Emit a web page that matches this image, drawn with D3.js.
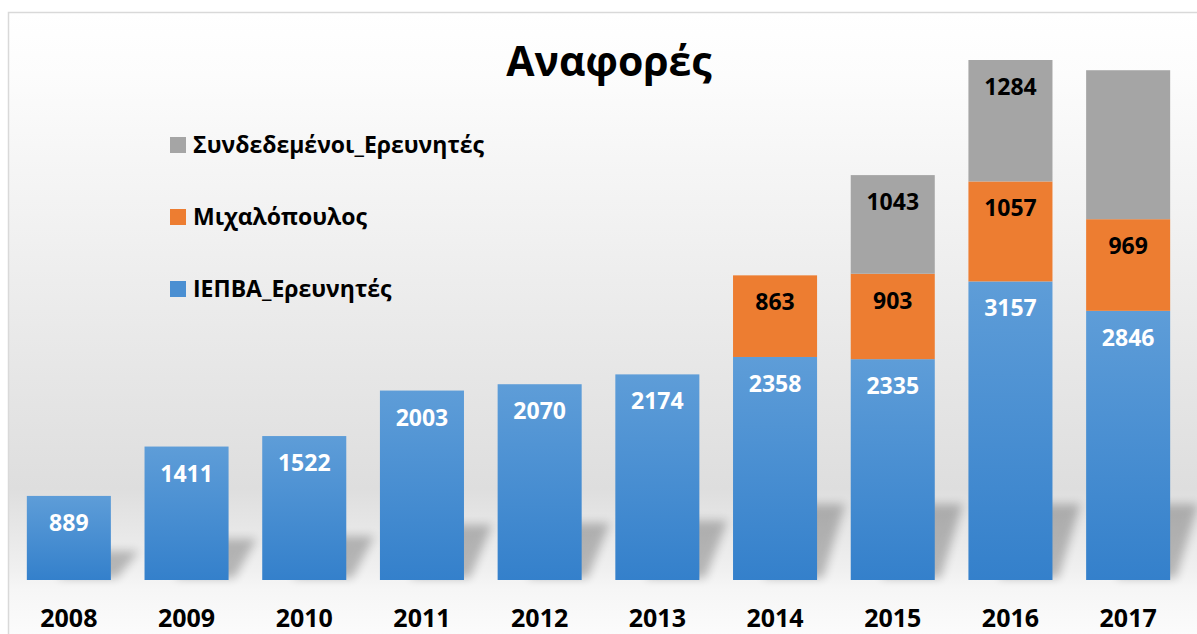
<!DOCTYPE html>
<html>
<head>
<meta charset="utf-8">
<script src="https://cdn.jsdelivr.net/npm/d3@7"></script>
<style>
  body { margin: 0; background: #fff; }
  svg text { font-family: "Open Sans", "Noto Sans", sans-serif; font-weight: bold; }
</style>
</head>
<body>
<div id="chart"></div>
<script>
// data
const years = ['2008', '2009', '2010', '2011', '2012', '2013', '2014', '2015', '2016', '2017'];
const iepba = [889, 1411, 1522, 2003, 2070, 2174, 2358, 2335, 3157, 2846];
const michalopoulos = [0, 0, 0, 0, 0, 0, 863, 903, 1057, 969];
const syndedemenoi = [0, 0, 0, 0, 0, 0, 0, 1043, 1284, 1575];
const syndLabelShown = [false, false, false, false, false, false, false, true, true, false];
const seriesNames = ['ΙΕΠΒΑ_Ερευνητές', 'Μιχαλόπουλος', 'Συνδεδεμένοι_Ερευνητές'];
const title = 'Αναφορές';

const W = 1197, H = 634;
const baseY = 580;

const svg = d3.select('#chart').append('svg')
    .attr('width', W)
    .attr('height', H);

const defs = svg.append('defs');

// background of chart area
const bg = defs.append('linearGradient').attr('id', 'bgGrad')
    .attr('x1', 0).attr('y1', 0).attr('x2', 0).attr('y2', 1);
bg.append('stop').attr('offset', '0%').attr('stop-color', '#ffffff');
bg.append('stop').attr('offset', '10%').attr('stop-color', '#fcfcfc');
bg.append('stop').attr('offset', '75%').attr('stop-color', '#dedede');
bg.append('stop').attr('offset', '88%').attr('stop-color', '#f0f0f0');
bg.append('stop').attr('offset', '91%').attr('stop-color', '#f6f6f6');
bg.append('stop').attr('offset', '100%').attr('stop-color', '#fdfdfd');

const blueGrad = defs.append('linearGradient').attr('id', 'blueGrad')
    .attr('x1', 0).attr('y1', 0).attr('x2', 0).attr('y2', 1);
blueGrad.append('stop').attr('offset', '0%').attr('stop-color', '#5e9dd8');
blueGrad.append('stop').attr('offset', '100%').attr('stop-color', '#3480cb');

defs.append('filter').attr('id', 'blur')
    .attr('x', '-50%').attr('y', '-50%').attr('width', '200%').attr('height', '200%')
    .append('feGaussianBlur').attr('stdDeviation', 5);

svg.append('rect')
    .attr('x', 8.5).attr('y', 12.5)
    .attr('width', W).attr('height', H)
    .attr('fill', 'url(#bgGrad)')
    .attr('stroke', '#d9d9d9')
    .attr('stroke-width', 1.5);

const x = d3.scaleBand()
    .domain(years)
    .range([10, 1187])
    .paddingInner(0.286)
    .paddingOuter(0.143);

const y = d3.scaleLinear()
    .domain([0, 5498])
    .range([baseY, 60]);

const rows = years.map((yr, i) => ({
    year: yr,
    iepba: iepba[i],
    michalopoulos: michalopoulos[i],
    syndedemenoi: syndedemenoi[i],
    showSynd: syndLabelShown[i]
}));

const stack = d3.stack().keys(['iepba', 'michalopoulos', 'syndedemenoi']);
const layers = stack(rows);
const fills = ['url(#blueGrad)', '#ed7d31', '#a5a5a5'];
const legendFills = ['#4a8fd2', '#ed7d31', '#a5a5a5'];
const labelColors = ['#ffffff', '#000000', '#000000'];

// soft shadows behind bars
svg.append('g').selectAll('polygon')
    .data(rows)
    .join('polygon')
    .attr('points', d => {
        const x0 = x(d.year), x1 = x0 + x.bandwidth();
        const top = y(d.iepba + d.michalopoulos + d.syndedemenoi);
        const rise = Math.min((baseY - top) * 0.25, 68);
        return [[x0 + 30, baseY - 2], [x1 + 6, baseY - 2], [x1 + 28, baseY - rise - 8], [x0 + 60, baseY - rise - 8]]
            .map(p => p.join(',')).join(' ');
    })
    .attr('fill', '#000')
    .attr('opacity', 0.24)
    .attr('filter', 'url(#blur)');

const layerG = svg.append('g').selectAll('g')
    .data(layers)
    .join('g')
    .attr('fill', (d, i) => fills[i]);

layerG.selectAll('rect')
    .data(d => d.filter(s => s[1] - s[0] > 0))
    .join('rect')
    .attr('x', d => x(d.data.year))
    .attr('width', x.bandwidth())
    .attr('y', d => y(d[1]))
    .attr('height', d => y(d[0]) - y(d[1]));

// data labels, inside end
layers.forEach((layer, li) => {
    svg.append('g').selectAll('text')
        .data(layer.filter(s => s[1] - s[0] > 0 && (li < 2 || s.data.showSynd)))
        .join('text')
        .attr('x', d => x(d.data.year) + x.bandwidth() / 2)
        .attr('y', d => y(d[1]) + 35)
        .attr('text-anchor', 'middle')
        .attr('fill', labelColors[li])
        .style('font-size', '23px')
        .text(d => d[1] - d[0]);
});

// x axis labels
svg.append('g')
    .attr('transform', `translate(0,${baseY})`)
    .call(d3.axisBottom(x).tickSize(0).tickPadding(0))
    .call(g => g.select('.domain').remove())
    .selectAll('text')
    .attr('y', 47)
    .attr('dy', null)
    .attr('fill', '#000')
    .style('font-family', '"Open Sans", "Noto Sans", sans-serif')
    .style('font-size', '25px');

// title
svg.append('text')
    .attr('x', 609)
    .attr('y', 76)
    .attr('text-anchor', 'middle')
    .style('font-size', '41px')
    .text(title);

// legend (top to bottom: grey, orange, blue)
const legendY = [145, 217, 289];
const legend = svg.append('g').selectAll('g')
    .data([2, 1, 0])
    .join('g')
    .attr('transform', (d, i) => `translate(170,${legendY[i]})`);

legend.append('rect')
    .attr('x', 0).attr('y', -8)
    .attr('width', 16).attr('height', 16)
    .attr('fill', d => legendFills[d]);

legend.append('text')
    .attr('x', 23)
    .attr('y', 8)
    .style('font-size', '23px')
    .text(d => seriesNames[d]);
</script>
</body>
</html>
